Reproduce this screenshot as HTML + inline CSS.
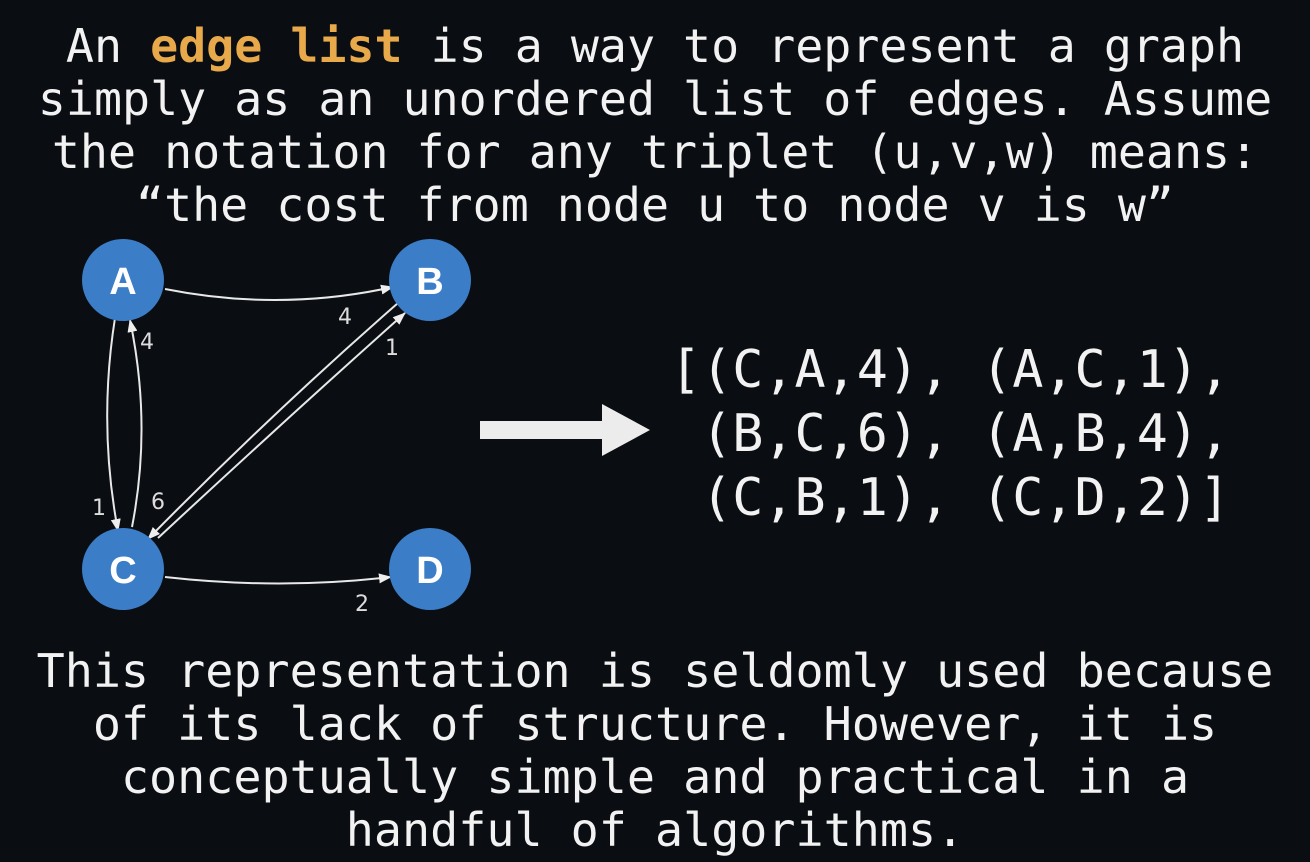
<!DOCTYPE html>
<html><head><meta charset="utf-8"><style>
html,body{margin:0;padding:0}
body{width:1310px;height:862px;overflow:hidden;background:#0a0d12;position:relative;font-family:"DejaVu Sans Mono","Liberation Mono",monospace;color:#f2f2f2}
.t{position:absolute;left:0;width:1310px;text-align:center;white-space:pre;}
.top{font-size:46.6px;line-height:53px;top:20px}
.bot{font-size:46.7px;line-height:53px;top:646px}
.el{position:absolute;left:670px;top:338px;font-size:51.7px;line-height:64px;white-space:pre}
.o{color:#e8a94a;font-weight:bold}
</style></head><body>
<div class="t top">An <span class="o">edge list</span> is a way to represent a graph
simply as an unordered list of edges. Assume
the notation for any triplet (u,v,w) means:
“the cost from node u to node v is w”</div>
<svg width="1310" height="862" style="position:absolute;left:0;top:0">
<defs><marker id="a" markerWidth="13" markerHeight="10" refX="12" refY="5" orient="auto" markerUnits="userSpaceOnUse"><path d="M0,0 L13,5 L0,10 Z" fill="#eee"/></marker></defs>
<g stroke="#e8e8e8" stroke-width="2" fill="none" marker-end="url(#a)">
<path d="M165,289 Q280,312 393,287"/>
<path d="M165,577 Q280,590 391,577"/>
<path d="M115,318 Q98,425 118,531"/>
<path d="M132,527 Q152,425 130,320"/>
<path d="M398,303 Q270,415 148,539"/>
<path d="M158,538 Q285,420 405,313"/>
</g>
<g fill="#3b7dc6">
<circle cx="123" cy="280" r="41"/><circle cx="430" cy="280" r="41"/>
<circle cx="123" cy="569" r="41"/><circle cx="430" cy="569" r="41"/>
</g>
<g fill="#fff" font-family="Liberation Sans,sans-serif" font-weight="bold" font-size="38" text-anchor="middle">
<text x="123" y="294">A</text><text x="430" y="294">B</text>
<text x="123" y="583">C</text><text x="430" y="583">D</text>
</g>
<g fill="#ddd" font-family="DejaVu Sans,sans-serif" font-size="22" text-anchor="middle">
<text x="147" y="349">4</text><text x="99" y="515">1</text><text x="158" y="509">6</text>
<text x="345" y="324">4</text><text x="392" y="355">1</text><text x="362" y="611">2</text>
</g>
<polygon points="480,421 602,421 602,404 650,430 602,456 602,439 480,439" fill="#ececec"/>
</svg>
<div class="el">[(C,A,4), (A,C,1),
 (B,C,6), (A,B,4),
 (C,B,1), (C,D,2)]</div>
<div class="t bot">This representation is seldomly used because
of its lack of structure. However, it is
conceptually simple and practical in a
handful of algorithms.</div>
</body></html>
